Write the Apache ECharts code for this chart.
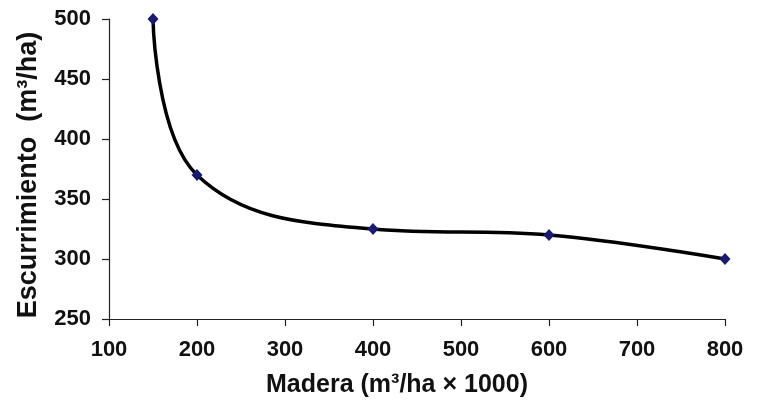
<!DOCTYPE html>
<html>
<head>
<meta charset="utf-8">
<script src="https://cdn.jsdelivr.net/npm/echarts@6/dist/echarts.min.js"></script>
<style>
html,body{margin:0;padding:0;background:#fff;}
#c{width:759px;height:404px;}
</style>
</head>
<body>
<div id="c"></div>
<script>
const xValues = [150, 200, 400, 600, 800];
const yValues = [500, 370, 325, 320, 300];
const xTicks = [100, 200, 300, 400, 500, 600, 700, 800];
const yTicks = [250, 300, 350, 400, 450, 500];
const xTitle = 'Madera (m³/ha × 1000)';
const yTitle = 'Escurrimiento  (m³/ha)';

const data = xValues.map((x, i) => [x, yValues[i]]);
const chart = echarts.init(document.getElementById('c'), null, {renderer: 'canvas'});
const font = 'Liberation Sans, Arial, sans-serif';
chart.setOption({
  backgroundColor: '#fff',
  animation: false,
  grid: {left: 109, right: 34, top: 19, bottom: 85, containLabel: false},
  xAxis: {
    type: 'value',
    min: xTicks[0], max: xTicks[xTicks.length - 1], interval: 100,
    name: xTitle, nameLocation: 'middle', nameGap: 54,
    nameTextStyle: {fontFamily: font, fontWeight: 'bold', fontSize: 25, color: '#111', padding: [0, 40, 0, 0], verticalAlign: 'top'},
    axisLine: {show: true, lineStyle: {color: '#222', width: 1.2}},
    axisTick: {show: true, length: 7, inside: false, lineStyle: {color: '#222', width: 1.2}},
    axisLabel: {fontFamily: font, fontWeight: 'bold', fontSize: 22, color: '#111', margin: 20},
    splitLine: {show: false}
  },
  yAxis: {
    type: 'value',
    min: yTicks[0], max: yTicks[yTicks.length - 1], interval: 50,
    name: yTitle, nameLocation: 'middle', nameGap: 67, nameRotate: 90,
    nameTextStyle: {fontFamily: font, fontWeight: 'bold', fontSize: 27, color: '#111', padding: [0, 12, 0, 0]},
    axisLine: {show: true, lineStyle: {color: '#222', width: 1.2}},
    axisTick: {show: true, length: 7, inside: false, lineStyle: {color: '#222', width: 1.2}},
    axisLabel: {fontFamily: font, fontWeight: 'bold', fontSize: 22, color: '#111', margin: 18},
    splitLine: {show: false}
  },
  series: [{
    type: 'line',
    data: data,
    smooth: 0.4,
    symbol: 'diamond',
    symbolSize: [11, 12],
    itemStyle: {color: '#1a1a70'},
    lineStyle: {color: '#000', width: 3.5},
    z: 3
  }]
});
</script>
</body>
</html>
